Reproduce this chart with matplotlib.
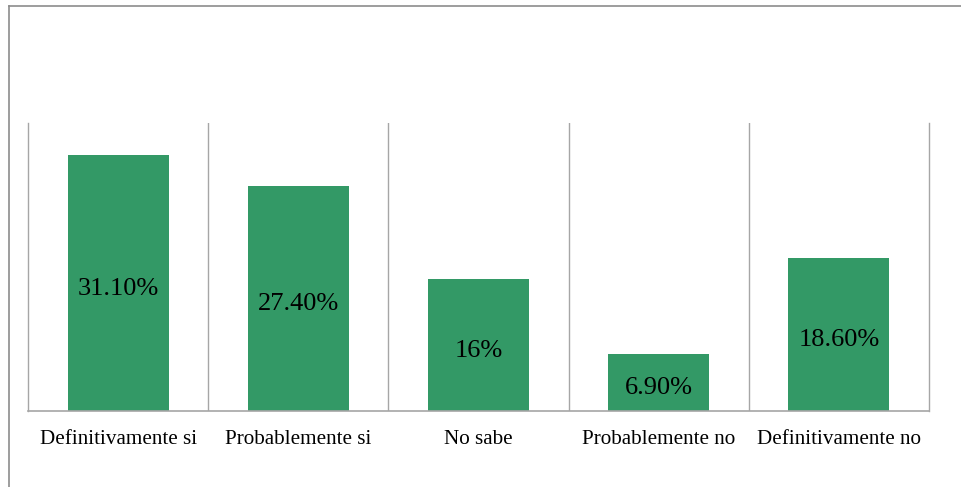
import numpy as np
import matplotlib.pyplot as plt
from matplotlib.lines import Line2D

categorias = ['Definitivamente si', 'Probablemente si', 'No sabe', 'Probablemente no', 'Definitivamente no']
valores = [31.1, 27.4, 16.0, 6.9, 18.6]
etiquetas = ['31.10%', '27.40%', '16%', '6.90%', '18.60%']

plt.rcParams['font.family'] = ['Liberation Serif', 'DejaVu Serif']

W, H = 961, 487
fig = plt.figure(figsize=(W / 100, H / 100), dpi=100)

# marco exterior (solo arriba e izquierda visibles)
fig.add_artist(Line2D([9 / W, 1], [1 - 6 / H, 1 - 6 / H], color='#8c8c8c', lw=1.2))
fig.add_artist(Line2D([9 / W, 9 / W], [0, 1 - 6 / H], color='#8c8c8c', lw=1.2))

ax = fig.add_axes([28 / W, 76 / H, 901 / W, 288 / H])
x = np.arange(len(categorias))
ax.bar(x, valores, width=0.56, color='#339966', zorder=2)

for xi, v, t in zip(x, valores, etiquetas):
    ax.annotate(t, (xi, v / 2), xytext=(0, -4), textcoords='offset points',
                ha='center', va='center', fontsize=19, color='black', zorder=3)

ax.set_xlim(-0.5, len(categorias) - 0.5)
ax.set_ylim(0, 35)
ax.set_yticks([])
ax.set_xticks(x)
ax.set_xticklabels(categorias, fontsize=15.2)
ax.tick_params(axis='x', length=0, pad=14)
ax.set_xticks(np.arange(1, len(categorias)) - 0.5, minor=True)
ax.tick_params(axis='x', which='minor', length=0)
ax.grid(which='minor', axis='x', color='#a6a6a6', lw=1.0, zorder=1)
ax.spines['top'].set_visible(False)
for s in ['left', 'right']:
    ax.spines[s].set_color('#a6a6a6')
    ax.spines[s].set_linewidth(1.0)
ax.spines['bottom'].set_color('#a6a6a6')
ax.spines['bottom'].set_linewidth(1.2)

fig.savefig('out.png', dpi=100)
